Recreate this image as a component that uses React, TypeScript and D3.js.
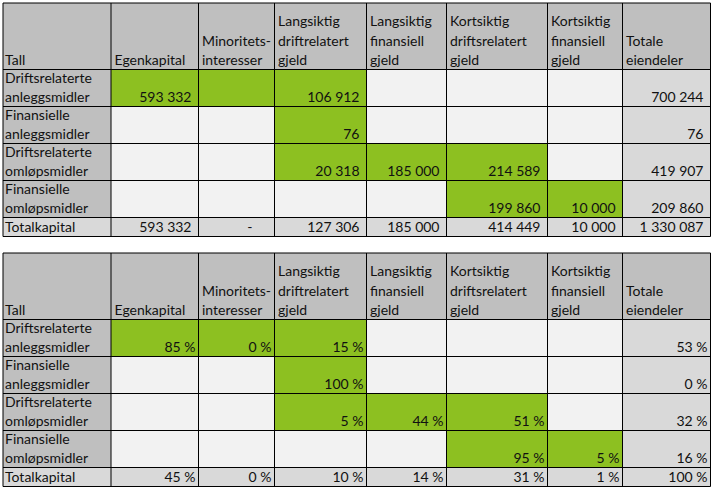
import React from "react";
import * as d3 from "d3";

// ---------- data ----------
const columnLabels: string[][] = [
  ["Tall"],
  ["Egenkapital"],
  ["Minoritets-", "interesser"],
  ["Langsiktig", "driftrelatert", "gjeld"],
  ["Langsiktig", "finansiell", "gjeld"],
  ["Kortsiktig", "driftsrelatert", "gjeld"],
  ["Kortsiktig", "finansiell", "gjeld"],
  ["Totale", "eiendeler"],
];

const rowLabels: string[][] = [
  ["Driftsrelaterte", "anleggsmidler"],
  ["Finansielle", "anleggsmidler"],
  ["Driftsrelaterte", "omløpsmidler"],
  ["Finansielle", "omløpsmidler"],
];
const totalLabel = "Totalkapital";

// amounts (null = empty cell)
const amountRows: (number | null)[][] = [
  [593332, null, 106912, null, null, null, 700244],
  [null, null, 76, null, null, null, 76],
  [null, null, 20318, 185000, 214589, null, 419907],
  [null, null, null, null, 199860, 10000, 209860],
];
const amountTotals: number[] = [593332, 0, 127306, 185000, 414449, 10000, 1330087];

// shares in percent
const shareRows: (number | null)[][] = [
  [85, 0, 15, null, null, null, 53],
  [null, null, 100, null, null, null, 0],
  [null, null, 5, 44, 51, null, 32],
  [null, null, null, null, 95, 5, 16],
];
const shareTotals: number[] = [45, 0, 10, 14, 31, 1, 100];

// highlighted (green) cells, per row, for the 6 financing columns
const highlighted: boolean[][] = [
  [true, true, true, false, false, false],
  [false, false, true, false, false, false],
  [false, false, true, true, true, false],
  [false, false, false, false, true, true],
];

// ---------- layout / style ----------
const W = 714;
const H = 494;
const colEdges = [3, 111, 198.5, 274.5, 366.5, 446.5, 547.5, 622.5, 710.5];
const tableTops = [3, 253];
const headerH = 66.5;
const rowH = 37;
const totalH = 19;

const C = {
  header: "#bfbfbf",
  label: "#bfbfbf",
  light: "#d9d9d9",
  empty: "#f2f2f2",
  green: "#8dc021",
  text: "#111",
  line: "#000",
};
const FONT = "Lato, 'Open Sans', sans-serif";
const FS = 14;

const locale = d3.formatLocale({
  decimal: ",",
  thousands: " ",
  grouping: [3],
  currency: ["", ""],
});
const fmtAmount = (v: number | null) =>
  v === null ? "" : v === 0 ? "-" : locale.format(",.0f")(v);
const fmtShare = (v: number | null) =>
  v === null ? "" : `${d3.format(".0f")(v)} %`;

type TableProps = {
  top: number;
  rows: (number | null)[][];
  totals: number[];
  fmt: (v: number | null) => string;
  padRight: number;
};

function Table({ top, rows, totals, fmt, padRight }: TableProps) {
  const nCols = colEdges.length - 1;
  const x0 = d3.scaleOrdinal<number, number>().domain(d3.range(nCols)).range(colEdges.slice(0, -1));
  const x1 = d3.scaleOrdinal<number, number>().domain(d3.range(nCols)).range(colEdges.slice(1));
  const rowEdges = [
    top,
    top + headerH,
    ...rows.map((_, i) => top + headerH + rowH * (i + 1)),
    top + headerH + rowH * rows.length + totalH,
  ];
  const y0 = (r: number) => rowEdges[r];
  const y1 = (r: number) => rowEdges[r + 1];

  const cells: React.ReactNode[] = [];
  const texts: React.ReactNode[] = [];

  // header
  columnLabels.forEach((lines, c) => {
    cells.push(
      <rect key={`h${c}`} x={x0(c)} y={y0(0)} width={x1(c) - x0(c)} height={y1(0) - y0(0)} fill={C.header} />
    );
    lines.forEach((t, i) => {
      texts.push(
        <text key={`ht${c}-${i}`} x={x0(c) + (c === 0 ? 2 : 3.5)} y={y1(0) - 4.5 - (lines.length - 1 - i) * 19.5}>
          {t}
        </text>
      );
    });
  });

  // data rows
  rows.forEach((row, r) => {
    const R = r + 1;
    cells.push(
      <rect key={`l${r}`} x={x0(0)} y={y0(R)} width={x1(0) - x0(0)} height={y1(R) - y0(R)} fill={C.label} />
    );
    rowLabels[r].forEach((t, i) => {
      texts.push(
        <text key={`lt${r}-${i}`} x={x0(0) + 2} y={y1(R) - 5 - (rowLabels[r].length - 1 - i) * 18.5}>
          {t}
        </text>
      );
    });
    row.forEach((v, j) => {
      const c = j + 1;
      const fill = j === 6 ? C.light : highlighted[r][j] ? C.green : C.empty;
      cells.push(
        <rect key={`c${r}-${j}`} x={x0(c)} y={y0(R)} width={x1(c) - x0(c)} height={y1(R) - y0(R)} fill={fill} />
      );
      const s = fmt(v);
      if (s)
        texts.push(
          <text key={`ct${r}-${j}`} x={x1(c) - padRight} y={y1(R) - 5} textAnchor="end">
            {s}
          </text>
        );
    });
  });

  // totals
  const T = rows.length + 1;
  cells.push(
    <rect key="tl" x={x0(0)} y={y0(T)} width={x1(nCols - 1) - x0(0)} height={y1(T) - y0(T)} fill={C.light} />
  );
  texts.push(
    <text key="tlt" x={x0(0) + 2} y={y1(T) - 4.5}>
      {totalLabel}
    </text>
  );
  totals.forEach((v, j) => {
    const c = j + 1;
    const s = fmt(v);
    texts.push(
      <text key={`tt${j}`} x={x1(c) - (s === "-" ? 22 : padRight)} y={y1(T) - 4.5} textAnchor="end">
        {s}
      </text>
    );
  });

  // grid lines
  const lines: React.ReactNode[] = [];
  colEdges.forEach((x, i) => {
    lines.push(<line key={`v${i}`} x1={x} x2={x} y1={rowEdges[0]} y2={rowEdges[rowEdges.length - 1]} />);
  });
  rowEdges.forEach((y, i) => {
    lines.push(<line key={`hz${i}`} x1={colEdges[0]} x2={colEdges[colEdges.length - 1]} y1={y} y2={y} />);
  });

  return (
    <g>
      {cells}
      <g stroke={C.line} strokeWidth={1}>{lines}</g>
      <g fill={C.text} fontFamily={FONT} fontSize={FS}>{texts}</g>
    </g>
  );
}

export default function App() {
  return (
    <svg
      width={W}
      height={H}
      viewBox={`0 0 ${W} ${H}`}
      style={{ position: "absolute", left: 0, top: 0, background: "#fff" }}
    >
      <rect width={W} height={H} fill="#fff" />
      <Table top={tableTops[0]} rows={amountRows} totals={amountTotals} fmt={fmtAmount} padRight={7} />
      <Table top={tableTops[1]} rows={shareRows} totals={shareTotals} fmt={fmtShare} padRight={3} />
    </svg>
  );
}
